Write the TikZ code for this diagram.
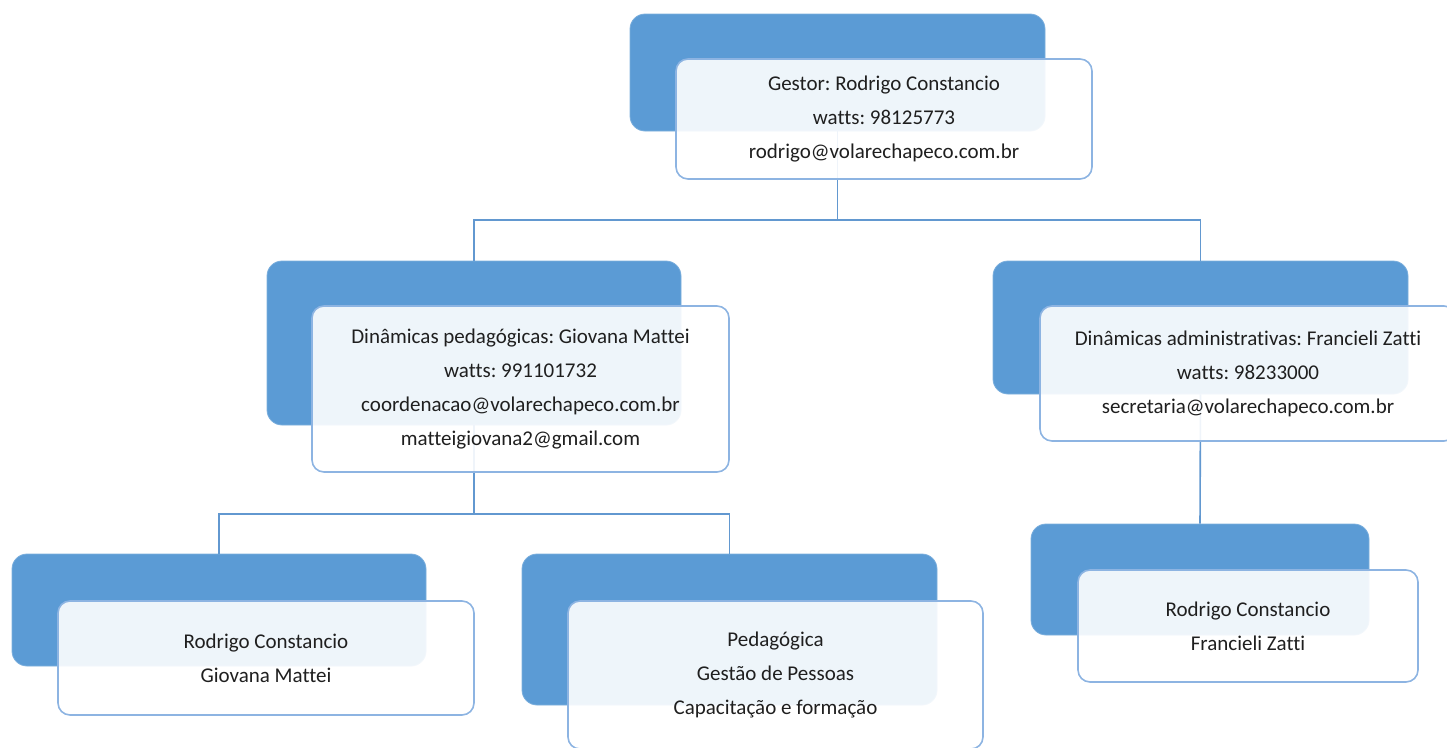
\documentclass[tikz,border=0pt]{standalone}
\usepackage{fontspec}
\setmainfont{Carlito}[Ligatures=NoCommon]
\frenchspacing
\definecolor{backblue}{RGB}{91,155,213}
\definecolor{edgeblue}{RGB}{141,180,226}
\definecolor{linkblue}{RGB}{98,152,208}
\begin{document}
\begin{tikzpicture}[x=1pt,y=-1pt,
  backbox/.style={draw=backblue!80!white,line width=0.8pt,fill=backblue,rounded corners=15pt,inner sep=0pt},
  frontbox/.style={draw=edgeblue,line width=1.6pt,fill=white,fill opacity=0.9,text opacity=1,rounded corners=12pt,inner sep=0pt,align=center,
    font=\frenchspacing\fontsize{21}{34}\selectfont,text=black!88},
  link/.style={draw=linkblue,line width=1.6pt}]
\useasboundingbox (0,0) rectangle (1447,747);
% back boxes
\node[backbox,minimum width=415pt,minimum height=117pt] (b1) at (837.5,72.5) {};
\node[backbox,minimum width=414pt,minimum height=164pt] (b2) at (474,343) {};
\node[backbox,minimum width=415pt,minimum height=133pt] (b3) at (1200.5,327.5) {};
\node[backbox,minimum width=414pt,minimum height=112pt] (b4) at (219,610) {};
\node[backbox,minimum width=415pt,minimum height=151pt] (b5) at (729.5,629.5) {};
\node[backbox,minimum width=338pt,minimum height=111pt] (b6) at (1200,579.5) {};
% connectors
\coordinate (j1) at (837.5,220);
\coordinate (j2) at (474,514);
\draw[link] (b1.south) -- (j1) -| (b2.north);
\draw[link] (j1) -| (b3.north);
\draw[link] (b2.south) -- (j2) -| (b4.north);
\draw[link] (j2) -| (b5.north);
\draw[link] (b3.south) -- (b6.north);
% front boxes
\node[frontbox,minimum width=416pt,minimum height=120pt] (w1) at (884,119)
  {Gestor: Rodrigo Constancio\\watts: 98125773\\rodrigo@volarechapeco.com.br};
\node[frontbox,minimum width=417pt,minimum height=166pt] (w2) at (520.5,389)
  {Dinâmicas pedagógicas: Giovana Mattei\\watts: 991101732\\coordenacao@volarechapeco.com.br\\matteigiovana2@gmail.com};
\node[frontbox,minimum width=416pt,minimum height=135pt] (w3) at (1248,373.5)
  {Dinâmicas administrativas: Francieli Zatti\\watts: 98233000\\secretaria@volarechapeco.com.br};
\node[frontbox,minimum width=416pt,minimum height=114pt] (w4) at (266,658)
  {Rodrigo Constancio\\Giovana Mattei};
\node[frontbox,minimum width=415pt,minimum height=148pt] (w5) at (775.5,675)
  {Pedagógica\\Gestão de Pessoas\\Capacitação e formação};
\node[frontbox,minimum width=340pt,minimum height=112pt] (w6) at (1248,626)
  {Rodrigo Constancio\\Francieli Zatti};
\end{tikzpicture}
\end{document}
